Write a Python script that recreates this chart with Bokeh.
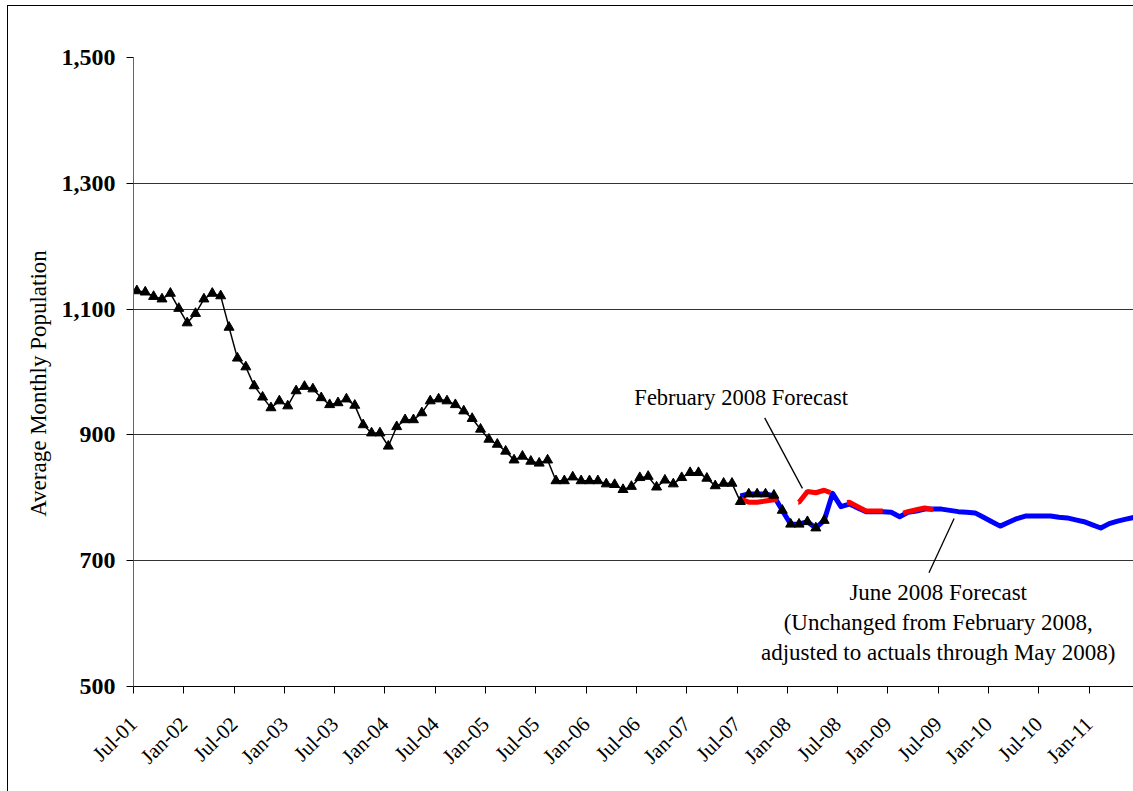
import math
from bokeh.plotting import figure
from bokeh.models import (ColumnDataSource, FixedTicker, NumeralTickFormatter,
                          Range1d, Label)
from bokeh.embed import file_html
from bokeh.resources import INLINE

# ---------------- data ----------------
# Monthly average population, actuals from Jul-01 (month index 0) through May-08 (index 82)
actual = [1129, 1127, 1120, 1116, 1125, 1101, 1078, 1093, 1116, 1125, 1121, 1071,
          1022, 1008, 978, 960, 943, 954, 946, 970, 977, 973, 959, 948,
          951, 957, 947, 916, 903, 903, 882, 913, 924, 924, 935, 954,
          957, 954, 948, 938, 926, 909, 893, 885, 874, 860, 866, 858,
          855, 860, 827, 827, 833, 827, 827, 827, 822, 821, 813, 818,
          832, 834, 817, 828, 822, 832, 840, 840, 831, 819, 823, 823,
          794, 806, 806, 806, 804, 780, 758, 758, 762, 752, 764]

# February 2008 forecast, from Jul-07 (index 72) through Jun-09 (index 95)
feb_start = 72
feb_forecast = [798, 793, 793, 795, 797, 797, 795, 793, 810, 808, 812, 807,
                792, 793, 786, 779, 779, 779, 778, 774, 778, 781, 784, 781]

# June 2008 forecast, from Jul-07 (index 72) through Jun-11 (index 119)
jun_start = 72
jun_forecast = [803, 806, 806, 806, 803, 780, 758, 758, 762, 752, 764, 807,
                786, 790, 784, 778, 778, 778, 777, 770, 777, 779, 782, 782,
                782, 780, 778, 777, 776, 769, 762, 755, 761, 767, 771, 771,
                771, 771, 769, 768, 765, 762, 757, 752, 759, 763, 766, 769]

tick_labels = ["Jul-01", "Jan-02", "Jul-02", "Jan-03", "Jul-03", "Jan-04", "Jul-04",
               "Jan-05", "Jul-05", "Jan-06", "Jul-06", "Jan-07", "Jul-07", "Jan-08",
               "Jul-08", "Jan-09", "Jul-09", "Jan-10", "Jul-10", "Jan-11"]
tick_step = 6  # months between labelled ticks

y_ticks = [500, 700, 900, 1100, 1300, 1500]

# ---------------- layout / style ----------------
FONT = "Liberation Serif"
X_OFF = 0.4  # points sit slightly right of the month tick

act_src = ColumnDataSource(dict(x=[i + X_OFF for i in range(len(actual))], y=actual))
feb_src = ColumnDataSource(dict(x=[feb_start + i + X_OFF for i in range(len(feb_forecast))], y=feb_forecast))
jun_src = ColumnDataSource(dict(x=[jun_start + i + X_OFF for i in range(len(jun_forecast))], y=jun_forecast))

p = figure(width=1133, height=791, output_backend="svg", toolbar_location=None,
           x_range=Range1d(0, 119.3), y_range=Range1d(500, 1500),
           min_border_left=133, min_border_right=0, min_border_top=57, min_border_bottom=105)
p.background_fill_color = "white"
p.border_fill_alpha = 0
p.outline_line_color = None
# outer chart border (left & top edges visible), drawn behind the transparent canvas border
p.styles = {"background": "linear-gradient(#000, #000) 7px 5px / 1px 100% no-repeat, "
                          "linear-gradient(#000, #000) 7px 5px / 100% 1px no-repeat, #ffffff"}

# grid
p.xgrid.grid_line_color = None
p.ygrid.ticker = FixedTicker(ticks=y_ticks)
p.ygrid.grid_line_color = "#333333"
p.ygrid.grid_line_width = 1

# y axis
p.yaxis.ticker = FixedTicker(ticks=y_ticks)
p.yaxis.formatter = NumeralTickFormatter(format="0,0")
p.yaxis.major_label_text_font = FONT
p.yaxis.major_label_text_font_style = "bold"
p.yaxis.major_label_text_font_size = "24px"
p.yaxis.major_label_text_color = "black"
p.yaxis.major_tick_line_color = "black"
p.yaxis.major_tick_out = 7
p.yaxis.major_tick_in = 0
p.yaxis.minor_tick_line_color = None
p.yaxis.axis_line_color = "#666666"
p.yaxis.major_label_standoff = 11
p.yaxis.axis_label = "Average Monthly Population\u00a0\u00a0\u00a0\u00a0"
p.yaxis.axis_label_text_font = FONT
p.yaxis.axis_label_text_font_style = "normal"
p.yaxis.axis_label_text_font_size = "23px"
p.yaxis.axis_label_text_color = "black"
p.yaxis.axis_label_standoff = 8

# x axis
xt = [i * tick_step for i in range(len(tick_labels))]
p.xaxis.ticker = FixedTicker(ticks=xt)
p.xaxis.major_label_overrides = {t: lab for t, lab in zip(xt, tick_labels)}
p.xaxis.major_label_orientation = math.pi / 4
p.xaxis.major_label_text_font = FONT
p.xaxis.major_label_text_font_size = "21px"
p.xaxis.major_label_text_color = "black"
p.xaxis.major_tick_line_color = "black"
p.xaxis.major_tick_out = 7
p.xaxis.major_tick_in = 0
p.xaxis.minor_tick_line_color = None
p.xaxis.axis_line_color = "black"
p.xaxis.major_label_standoff = 27

# series
p.line("x", "y", source=act_src, line_color="black", line_width=1.5)
p.line("x", "y", source=jun_src, line_color="#0000FF", line_width=5, line_join="round")
p.line("x", "y", source=feb_src, line_color="#FF0000", line_width=5, line_dash="38 21")
p.scatter("x", "y", source=act_src, marker="triangle", size=10,
          fill_color="black", line_color="black")

# annotations
p.segment(x0=[75.3], y0=[927], x1=[79.8], y1=[815], line_color="black", line_width=1.3)
p.segment(x0=[97.9], y0=[767], x1=[94.9], y1=[681], line_color="black", line_width=1.3)

p.add_layout(Label(x=72.5, y=960, text="February 2008 Forecast", text_align="center",
                   text_baseline="middle", text_font=FONT, text_font_size="22.5px",
                   text_color="black"))
for yy, txt in [(650, "June 2008 Forecast"),
                (602, "(Unchanged from February 2008,"),
                (554, "adjusted to actuals through May 2008)")]:
    p.add_layout(Label(x=96.0, y=yy, text=txt, text_align="center", text_baseline="middle",
                       text_font=FONT, text_font_size="23px", text_color="black"))

open("out.html", "w").write(file_html(p, INLINE))
